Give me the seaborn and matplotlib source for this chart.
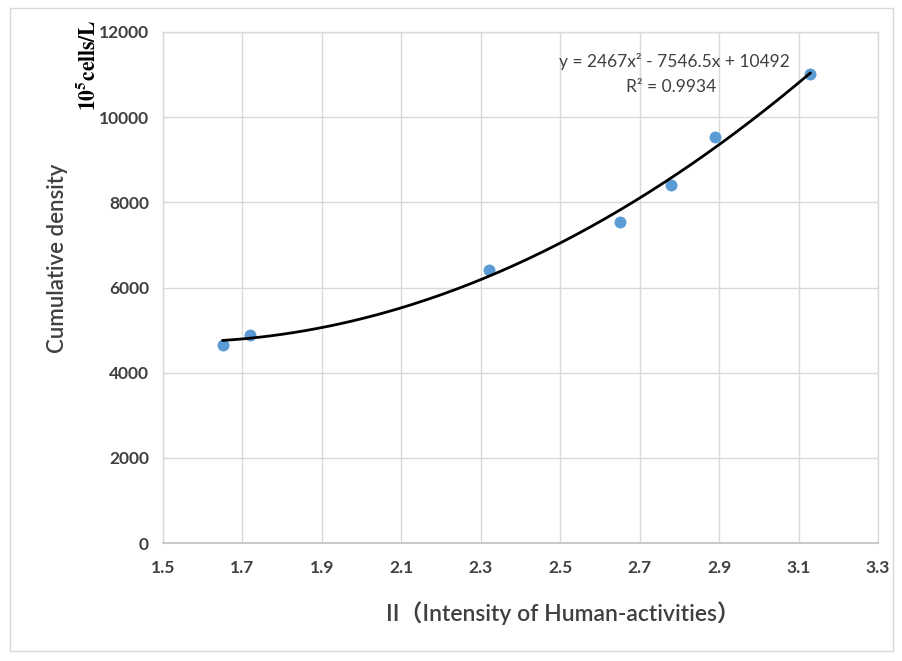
import numpy as np
import pandas as pd
import matplotlib
matplotlib.use("Agg")
import matplotlib.pyplot as plt
from matplotlib.patches import Rectangle
import seaborn as sns

# ---- data ----
intensity = [1.65, 1.72, 2.32, 2.65, 2.78, 2.89, 3.13]
density = [4640, 4880, 6420, 7540, 8410, 9530, 11010]
trend_coef = [2467, -7546.5, 10492]
r_squared = 0.9934
x_ticks = [1.5, 1.7, 1.9, 2.1, 2.3, 2.5, 2.7, 2.9, 3.1, 3.3]
y_ticks = [0, 2000, 4000, 6000, 8000, 10000, 12000]

sns.set_theme(style="white")
plt.rcParams['font.family'] = ['Lato', 'Noto Sans CJK SC', 'DejaVu Sans']
plt.rcParams['mathtext.fontset'] = 'stix'

df = pd.DataFrame({"x": intensity, "y": density})
xs = np.linspace(min(intensity), max(intensity), 200)
fit = pd.DataFrame({"x": xs, "y": np.polyval(trend_coef, xs)})

fig = plt.figure(figsize=(9.03, 6.61), dpi=100)
ax = fig.add_axes([163/903, 1-543/661, (878-163)/903, (543-32)/661])

sns.scatterplot(data=df, x="x", y="y", ax=ax, color="#5B9BD5", s=65,
                edgecolor="#5B9BD5", linewidth=0.5, zorder=3)
sns.lineplot(data=fit, x="x", y="y", ax=ax, color="black", linewidth=2.0, zorder=4)

ax.set_xlim(1.5, 3.3)
ax.set_ylim(0, 12000)
ax.set_xticks(x_ticks)
ax.set_yticks(y_ticks)
ax.set_xticklabels([f"{v:.1f}" for v in x_ticks])
ax.set_yticklabels([str(v) for v in y_ticks])
ax.tick_params(axis='both', length=0, labelsize=12.5, labelcolor="#404040")
ax.tick_params(axis='x', pad=12)
ax.tick_params(axis='y', pad=10)
for lab in ax.get_xticklabels() + ax.get_yticklabels():
    lab.set_fontweight('bold')
ax.grid(True, color="#d9d9d9", linewidth=1.0)
for side in ['left', 'right', 'top']:
    ax.spines[side].set_color("#d9d9d9")
    ax.spines[side].set_linewidth(1.0)
ax.spines['bottom'].set_color("#bfbfbf")
ax.spines['bottom'].set_linewidth(1.2)

ax.set_xlabel("")
ax.set_ylabel("")

fig.text(563/903, 1-613/661, "II（Intensity of Human-activities）", fontsize=16.5,
         color="#404040", ha="center", va="center", fontweight="semibold")
fig.text(58/903, 1-258/661, "Cumulative density", rotation=90, fontsize=16,
         color="#404040", ha="center", va="center", fontweight="semibold")
fig.text(87/903, 1-65/661, r"$\mathbf{10^{5}cells/L}$", rotation=90, fontsize=15.5,
         color="black", ha="center", va="center")

a, b, c = trend_coef
fig.text(674/903, 1-62/661, f"y = {a}x² - {abs(b)}x + {c}",
         fontsize=12.5, color="#404040", ha="center", va="center")
fig.text(671/903, 1-87/661, f"R² = {r_squared}",
         fontsize=12.5, color="#404040", ha="center", va="center")

fig.patches.append(Rectangle((10/903, 10/661), 883/903, 643/661, transform=fig.transFigure,
                             fill=False, edgecolor="#d9d9d9", linewidth=1.0))

fig.savefig("out.png", dpi=100)
